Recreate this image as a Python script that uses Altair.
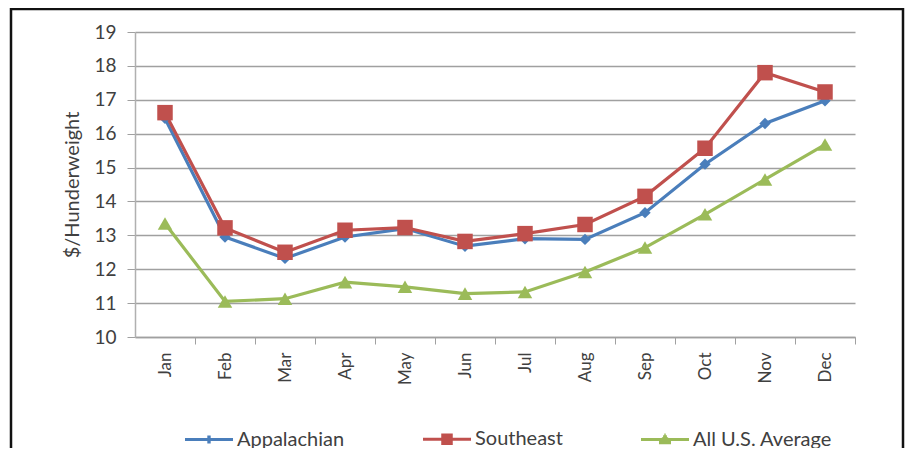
import altair as alt
import pandas as pd

months = ["Jan", "Feb", "Mar", "Apr", "May", "Jun", "Jul", "Aug", "Sep", "Oct", "Nov", "Dec"]
appalachian = [16.45, 12.95, 12.32, 12.95, 13.2, 12.68, 12.9, 12.88, 13.67, 15.1, 16.3, 16.97]
southeast = [16.62, 13.22, 12.5, 13.15, 13.23, 12.82, 13.05, 13.32, 14.15, 15.57, 17.8, 17.23]
us_average = [13.35, 11.05, 11.13, 11.62, 11.48, 11.28, 11.33, 11.92, 12.64, 13.62, 14.65, 15.68]

series_names = ["Appalachian", "Southeast", "All U.S. Average"]
series_values = [appalachian, southeast, us_average]
colors = ["#4A7EBB", "#C0504D", "#9BBB59"]
shapes = ["diamond", "square", "triangle-up"]
sizes = [130, 240, 210]

rows = []
for name, vals in zip(series_names, series_values):
    for m, v in zip(months, vals):
        rows.append({"month": m, "series": name, "value": v})
df = pd.DataFrame(rows)

FONT = "Lato"
TXT = "#404040"

x_enc = alt.X("month:N", sort=months, title=None,
              scale=alt.Scale(type="point", padding=0.5),
              axis=alt.Axis(labelAngle=-90, labelFontSize=17, labelColor=TXT, labelFont=FONT,
                            tickSize=7, tickOffset=30, labelOffset=-30, labelPadding=8,
                            tickColor="#a0a0a0", domainColor="#a0a0a0", domainWidth=1.5,
                            grid=False, labelAlign="right", labelBaseline="middle"))
y_enc = alt.Y("value:Q", title="$/Hunderweight",
              scale=alt.Scale(domain=[10, 19], nice=False, zero=False),
              axis=alt.Axis(values=list(range(10, 20)), labelFontSize=19, labelColor=TXT,
                            labelFont=FONT, tickSize=8, labelPadding=11,
                            tickColor="#a0a0a0", domainColor="#b0b0b0", domainWidth=1.5,
                            gridColor="#a0a0a0", gridWidth=1.7,
                            titleFont=FONT, titleFontSize=20, titleFontWeight="normal",
                            titleColor=TXT, titlePadding=11))

base = alt.Chart(df)
layers = []
for name, c, s, sz in zip(series_names, colors, shapes, sizes):
    sub = base.transform_filter(alt.datum.series == name)
    layers.append(sub.mark_line(color=c, strokeWidth=3.2).encode(x=x_enc, y=y_enc))
for name, c, s, sz in zip(series_names, colors, shapes, sizes):
    sub = base.transform_filter(alt.datum.series == name)
    layers.append(sub.mark_point(shape=s, filled=True, color=c, size=sz, opacity=1)
                  .encode(x=x_enc, y=y_enc))

# legend glyphs: a line with a small marker built from stroked segments
legend_paths = [
    "M-1,0H1M-0.07,-0.1H0.07M-0.17,0H0.17M-0.07,0.1H0.07",
    "M-1,0H1M-0.24,-0.17H0.24M-0.24,-0.08H0.24M-0.24,0.08H0.24M-0.24,0.17H0.24",
    "M-1,0H1M-0.25,0.13H0.25M-0.19,0.05H0.19M-0.13,-0.03H0.13M-0.08,-0.11H0.08M-0.03,-0.18H0.03",
]
legend_layer = base.mark_point(opacity=0, filled=False).encode(
    x=x_enc, y=y_enc,
    stroke=alt.Stroke("series:N", sort=series_names,
                      scale=alt.Scale(domain=series_names, range=colors),
                      legend=alt.Legend(title=None, orient="none", direction="horizontal",
                                        legendX=48, legendY=381, columnPadding=71,
                                        symbolSize=2304, symbolStrokeWidth=3.2, symbolOpacity=1,
                                        labelFont=FONT, labelFontSize=20, labelColor=TXT,
                                        labelOffset=2, padding=0)),
    shape=alt.Shape("series:N", sort=series_names,
                    scale=alt.Scale(domain=series_names, range=legend_paths)),
)

frame = alt.Chart(pd.DataFrame({"a": [0]})).mark_rect(
    fill=None, stroke="#111111", strokeWidth=2.5, clip=False
).encode(x=alt.value(-124), x2=alt.value(768), y=alt.value(-23), y2=alt.value(440))

chart = alt.layer(frame, *layers, legend_layer).properties(
    width=720, height=305,
    padding={"left": 127, "top": 24, "right": 50, "bottom": 111},
    autosize="none",
    background="white",
).configure_view(stroke=None)

chart.save("out.html", embed_options={"renderer": "svg", "actions": False})
